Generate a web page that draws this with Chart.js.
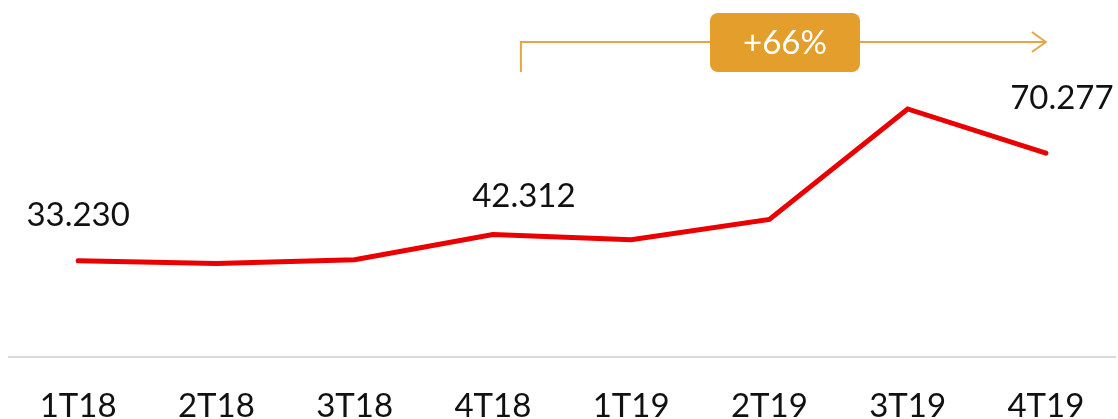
<!DOCTYPE html>
<html>
<head>
<meta charset="utf-8">
<script src="https://cdn.jsdelivr.net/npm/chart.js"></script>
<style>
  html, body { margin: 0; padding: 0; background: #fff; overflow: hidden; }
  #wrap { width: 1118px; height: 455px; }
</style>
</head>
<body>
<div id="wrap"><canvas id="lineChart"></canvas></div>
<script>
// quarters and values (thousands)
const quarters = ['1T18', '2T18', '3T18', '4T18', '1T19', '2T19', '3T19', '4T19'];
const values = [33.230, 32.3, 33.6, 42.312, 40.5, 47.5, 85.5, 70.277];
const labelled = [0, 3, 7];
const growthText = '+66%';

const FONT = 'Lato, "Open Sans", sans-serif';

// value labels above selected points
const valueLabels = {
    id: 'valueLabels',
    afterDatasetsDraw(chart) {
        const ctx = chart.ctx;
        const meta = chart.getDatasetMeta(0);
        const shift = { 0: [0, -45], 3: [31, -38], 7: [16, -55] };
        ctx.save();
        ctx.font = '33px ' + FONT;
        ctx.fillStyle = '#111';
        ctx.textAlign = 'center';
        ctx.textBaseline = 'middle';
        labelled.forEach(i => {
            const p = meta.data[i];
            const s = shift[i];
            ctx.fillText(values[i].toFixed(3), p.x + s[0], p.y + s[1]);
        });
        ctx.restore();
    }
};

// growth bracket with arrow and badge
const growthBadge = {
    id: 'growthBadge',
    afterDraw(chart) {
        const ctx = chart.ctx;
        const x = chart.scales.x;
        const x0 = x.getPixelForValue(3) + 28;
        const x1 = x.getPixelForValue(7);
        const y = 42;
        ctx.save();
        ctx.strokeStyle = '#E6A546';
        ctx.lineWidth = 2;
        ctx.beginPath();
        ctx.moveTo(x0, 72);
        ctx.lineTo(x0, y);
        ctx.lineTo(x1, y);
        ctx.moveTo(x1 - 14, y - 10);
        ctx.lineTo(x1, y);
        ctx.lineTo(x1 - 14, y + 10);
        ctx.stroke();

        const bw = 150, bh = 59, bx = 785 - bw / 2, by = 13;
        ctx.fillStyle = '#E49E2B';
        ctx.beginPath();
        ctx.roundRect(bx, by, bw, bh, 8);
        ctx.fill();
        ctx.fillStyle = '#fff';
        ctx.font = '33px ' + FONT;
        ctx.textAlign = 'center';
        ctx.textBaseline = 'middle';
        ctx.fillText(growthText, bx + bw / 2, by + bh / 2 + 1);
        ctx.restore();
    }
};

const ctx = document.getElementById('lineChart').getContext('2d');
new Chart(ctx, {
    type: 'line',
    data: {
        labels: quarters,
        datasets: [{
            data: values,
            borderColor: '#EA0000',
            borderWidth: 5,
            borderCapStyle: 'round',
            borderJoinStyle: 'miter',
            pointRadius: 0,
            tension: 0,
            fill: false
        }]
    },
    options: {
        responsive: true,
        maintainAspectRatio: false,
        animation: false,
        layout: { padding: { left: 9, right: 3, top: 0, bottom: 0 } },
        plugins: {
            legend: { display: false },
            tooltip: { enabled: false }
        },
        scales: {
            x: {
                offset: true,
                grid: { display: false, drawTicks: false },
                border: { display: true, color: '#D9D9D9', width: 2 },
                ticks: {
                    color: '#111',
                    padding: 29,
                    maxRotation: 0,
                    autoSkip: false,
                    font: { family: FONT, size: 33 }
                }
            },
            y: {
                display: false,
                min: 0,
                max: 123
            }
        }
    },
    plugins: [valueLabels, growthBadge]
});
</script>
</body>
</html>
